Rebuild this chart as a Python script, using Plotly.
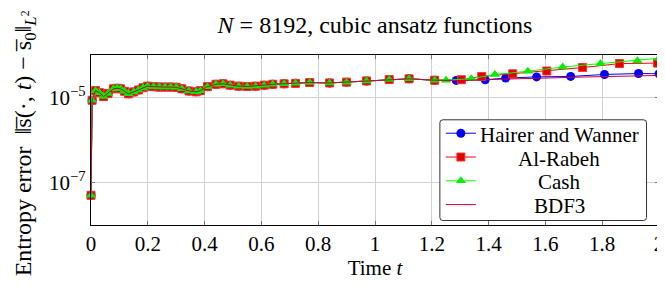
import plotly.graph_objects as go

# ---------------- data ----------------
t_common = [0.0, 0.004, 0.016, 0.03, 0.044, 0.06, 0.079, 0.092, 0.104, 0.118,
            0.132, 0.15, 0.167, 0.183, 0.199, 0.22, 0.24, 0.26, 0.28, 0.30,
            0.32, 0.345, 0.37, 0.385, 0.41, 0.44, 0.465, 0.49, 0.52, 0.55,
            0.58, 0.61, 0.64, 0.68, 0.72, 0.77, 0.84, 0.90, 0.97, 1.05,
            1.12, 1.21]
e_common = [5e-8, 8.6e-6, 1.45e-5, 1.3e-5, 1.05e-5, 1.25e-5, 1.6e-5, 1.65e-5, 1.6e-5, 1.4e-5,
            1.22e-5, 1.35e-5, 1.5e-5, 1.7e-5, 1.85e-5, 1.8e-5, 1.76e-5, 1.76e-5, 1.76e-5, 1.74e-5,
            1.6e-5, 1.42e-5, 1.36e-5, 1.45e-5, 1.8e-5, 2.05e-5, 2.1e-5, 1.95e-5, 1.85e-5, 1.82e-5,
            1.85e-5, 1.95e-5, 2.05e-5, 2.1e-5, 2.15e-5, 2.25e-5, 2.2e-5, 2.3e-5, 2.45e-5, 2.65e-5,
            2.75e-5, 2.55e-5]

t_hw_tail = [1.286, 1.388, 1.46, 1.569, 1.689, 1.808, 1.928, 2.0]
e_hw_tail = [2.52e-5, 2.62e-5, 2.86e-5, 3.05e-5, 3.13e-5, 3.48e-5, 3.67e-5, 3.62e-5]

t_ar_tail = [1.304, 1.376, 1.485, 1.605, 1.731, 1.861, 1.995]
e_ar_tail = [2.62e-5, 3.13e-5, 3.61e-5, 4.2e-5, 5.07e-5, 6.28e-5, 6.45e-5]

t_cash_tail = [1.25, 1.339, 1.422, 1.538, 1.661, 1.794, 1.924, 2.0]
e_cash_tail = [2.55e-5, 2.77e-5, 3.48e-5, 4.16e-5, 5.2e-5, 6.28e-5, 7.36e-5, 8.4e-5]

t_bdf_tail = [1.3, 1.45, 1.6, 1.75, 1.9, 2.0]
e_bdf_tail = [2.5e-5, 2.7e-5, 2.9e-5, 3.05e-5, 3.2e-5, 3.3e-5]

names = ["Hairer and Wanner", "Al-Rabeh", "Cash", "BDF3"]
x_ticks = [0, 0.2, 0.4, 0.6, 0.8, 1.0, 1.2, 1.4, 1.6, 1.8, 2.0]
x_ticktext = ["0", "0.2", "0.4", "0.6", "0.8", "1", "1.2", "1.4", "1.6", "1.8", "2"]
y_ticks = [1e-7, 1e-5]
y_ticktext = ["10<sup>\u22127</sup>", "10<sup>\u22125</sup>"]

# ---------------- figure ----------------
FONT = "Liberation Serif, Times New Roman, serif"
FS = 21
NB = "\u00a0"
W, H = 657, 279          # page body margin of 8px shifts the figure
L, R, T, B = 82.5, 5.5, 47, 61.5
PW, PH = W - L - R, H - T - B


def px_x(xp):
    return (xp - L) / PW


def px_y(yp):
    return (H - B - yp) / PH


fig = go.Figure()
specs = [
    (t_common + t_hw_tail, e_common + e_hw_tail, "lines+markers", "#0000ff",
     dict(symbol="circle", size=9, color="#0000ff")),
    (t_common + t_ar_tail, e_common + e_ar_tail, "lines+markers", "#ff0000",
     dict(symbol="square", size=8, color="#e00000", line=dict(color="#ff3030", width=1))),
    (t_common + t_cash_tail, e_common + e_cash_tail, "lines+markers", "#00ff00",
     dict(symbol="triangle-up", size=9, color="#00ee00")),
    (t_common + t_bdf_tail, e_common + e_bdf_tail, "lines", "#c8003c", None),
]
for (xs, ys, mode, col, mk), nm in zip(specs, names):
    kw = dict(marker=mk) if mk else {}
    fig.add_trace(go.Scatter(x=xs, y=ys, mode=mode, name=NB * 3,
                             legendgroup=nm, line=dict(color=col, width=1),
                             cliponaxis=False, **kw))

# legend frame (rounded) drawn as a layout shape
bx0, bx1, by0, by1, rr = 432, 639, 112, 213, 3
x0, x1 = px_x(bx0), px_x(bx1)
yt, yb = px_y(by0), px_y(by1)
rx, ry = rr / PW, rr / PH
path = (f"M {x0 + rx},{yt} L {x1 - rx},{yt} Q {x1},{yt} {x1},{yt - ry} "
        f"L {x1},{yb + ry} Q {x1},{yb} {x1 - rx},{yb} L {x0 + rx},{yb} "
        f"Q {x0},{yb} {x0},{yb + ry} L {x0},{yt - ry} Q {x0},{yt} {x0 + rx},{yt} Z")
fig.add_shape(type="path", path=path, xref="paper", yref="paper",
              line=dict(color="#333333", width=1), fillcolor="white", layer="above")

# centred legend labels (like the pgfplots legend)
row_y_px = [127, 151, 174.5, 198]     # figure pixel rows of the legend entries
for nm, ryp in zip(names, row_y_px):
    fig.add_annotation(x=px_x(551.5), y=px_y(ryp), xref="paper", yref="paper",
                       text=nm, showarrow=False, xanchor="center", yanchor="middle",
                       font=dict(family=FONT, size=FS, color="#000000"))

# y-axis title as a rotated annotation (placed like the reference)
ytitle = ("Entropy error " + NB + "\u2016s\u0305(\u00b7, <i>t</i>)" + NB + "\u2212" + NB
          + "s\u0305<sub>0</sub>\u2016<sub><i>L</i><sup>2</sup></sub>")
fig.add_annotation(x=px_x(16), y=px_y(136), xref="paper", yref="paper", text=ytitle,
                   textangle=-90, showarrow=False, xanchor="center", yanchor="middle",
                   font=dict(family=FONT, size=24, color="#000000"))

axis_common = dict(showline=True, linecolor="black", linewidth=1.2, mirror="ticks",
                   ticks="inside", ticklen=4, tickcolor="#777777", automargin=False,
                   showgrid=True, gridcolor="#d0d0d0", gridwidth=1, zeroline=False,
                   tickfont=dict(family=FONT, size=FS, color="#000000"))

fig.update_xaxes(range=[0, 2], tickvals=x_ticks, ticktext=x_ticktext,
                 title=dict(text="Time <i>t</i>", font=dict(family=FONT, size=FS, color="#000000"),
                            standoff=4),
                 **axis_common)
fig.update_yaxes(type="log", range=[-8, -4], tickvals=y_ticks, ticktext=y_ticktext,
                 **axis_common)

fig.update_layout(
    width=W, height=H,
    margin=dict(l=L, r=R, t=T, b=B, autoexpand=False),
    paper_bgcolor="white", plot_bgcolor="white",
    title=dict(text="<i>N</i> = 8192, cubic ansatz functions", x=(L + PW / 2) / W, xanchor="center",
               xref="container", y=1 - 17 / H, yref="container", yanchor="middle",
               font=dict(family=FONT, size=24, color="#000000")),
    legend=dict(x=px_x(433), y=px_y(108.5), xanchor="left", yanchor="top",
                bgcolor="rgba(0,0,0,0)", borderwidth=0,
                font=dict(family=FONT, size=16, color="#000000"),
                tracegroupgap=0, itemwidth=30),
    showlegend=True,
)

fig.write_html("out.html")
